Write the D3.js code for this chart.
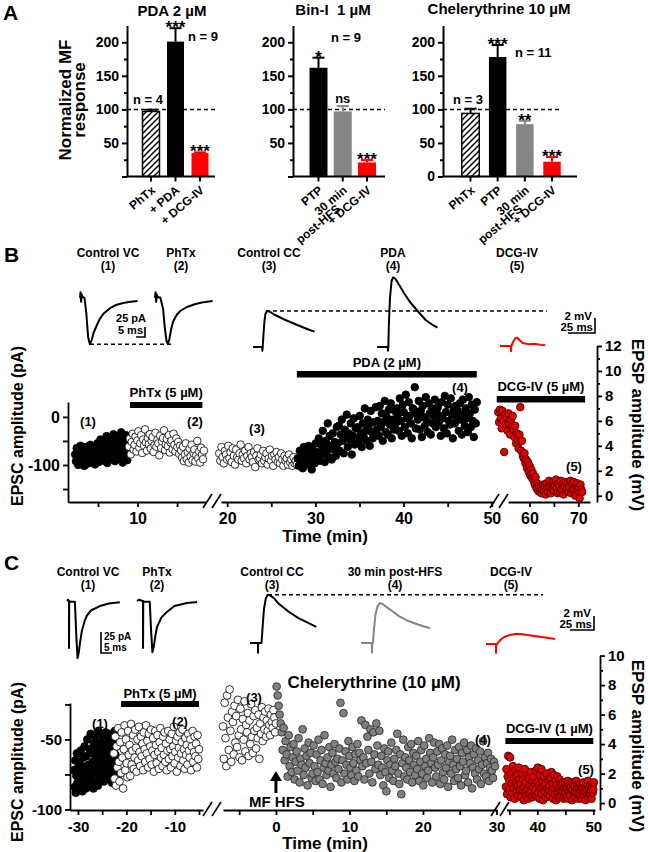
<!DOCTYPE html>
<html><head><meta charset="utf-8">
<script src="https://cdn.jsdelivr.net/npm/d3@7"></script>
<style>
html,body{margin:0;padding:0;background:#fff;}
svg{display:block;font-family:"Liberation Sans",Arial,Helvetica,sans-serif;font-weight:bold;}
</style></head><body>
<svg id="fig" width="648" height="852"></svg>
<script>
// ================= DATA =================
// ---- Panel A (normalized MF response, %) ----
const aTitles = ["PDA 2 µM", "Bin-I\u00a0 1 µM", "Chelerythrine 10 µM"];
const aCatsPDA = ["PhTx", "+ PDA", "+ DCG-IV"];
const aMeansPDA = [97, 201, 35];
const aErrPDA = [2.5, 20, 1];
const aSigPDA = ["", "***", "***"];
const aNPDA = ["n = 4", "n = 9"];
const aCatsBin = ["PTP", "30 min\npost-HFS", "+ DCG-IV"];
const aMeansBin = [162, 97, 21];
const aErrBin = [15, 8, 3.5];
const aSigBin = ["*", "ns", "***"];
const aNBin = ["n = 9"];
const aCatsChel = ["PhTx", "PTP", "30 min\npost-HFS", "+ DCG-IV"];
const aMeansChel = [94, 178, 78, 22];
const aErrChel = [7, 18, 5, 7];
const aSigChel = ["", "***", "**", "***"];
const aNChel = ["n = 3", "n = 11"];
const aYTicks = [0, 50, 100, 150, 200];
const aYMinor = [25, 75, 125, 175];

// ---- Panel B scatter ----
const bVcCtrl = [-78,-92,-65,-84,-100,-71,-88,-60,-95,-76,-83,-68,-102,-74,-90,-62,-81,-97,-70,-86,-58,-93,-77,-66,-89,-73,-99,-64,-85,-55,-80,-94,-69,-47,-87,-72,-60,-91,-52,-78,-84,-40,-96,-67,-57,-75,-88,-45,-63,-82,-36,-70,-92,-54,-79,-43,-66,-86,-50,-74,-32,-61,-95,-48,-83,-58,-38,-71,-90,-53];
const bVcPhTx = [-62,-45,-78,-52,-35,-68,-58,-41,-72,-49,-30,-64,-55,-38,-75,-47,-60,-26,-53,-70,-44,-57,-36,-66,-50,-42,-73,-59,-33,-62,-48,-55,-80,-39,-65,-51,-44,-28,-69,-57,-46,-61,-38,-74,-53,-49,-67,-35,-58,-72,-45,-63,-52,-77,-60,-70,-85,-62,-92,-78,-55,-88,-73,-95,-66,-82,-58,-90,-75,-68,-93,-80,-50,-86,-72,-95,-64,-79,-88,-70];
const bCcCtrl = [3.4,2.8,3.9,3.1,2.6,3.6,3.3,2.9,4.0,3.0,3.5,2.7,3.8,3.2,2.5,3.7,3.1,2.9,3.4,4.1,2.8,3.3,3.0,3.6,2.6,3.2,3.9,2.9,3.4,3.1,2.7,3.5,2.3,3.2,3.8,2.9,3.0,3.3,2.6,3.6,2.8,3.1,3.4,2.5,3.0,3.7,2.8,3.2,2.4,3.3,2.9,3.5,2.7,3.1,2.6,3.4,2.9,2.4,3.2,2.8,3.0,2.5,3.3,2.7,2.9,2.4,3.1,2.6,2.8,2.5];
const bCcPda = [3.0,2.4,3.6,2.8,3.3,2.2,3.9,2.7,3.1,3.5,2.5,4.0,2.9,3.4,2.1,3.7,3.2,2.6,4.2,3.0,
 3.5,4.6,2.8,4.1,3.3,5.2,3.9,2.7,4.4,3.6,5.8,3.1,4.8,4.0,2.9,5.0,3.7,4.3,3.2,5.5,
 4.2,5.6,3.6,4.9,6.1,4.4,3.4,5.3,4.7,6.5,3.9,5.0,4.5,5.8,3.3,4.8,6.2,4.1,5.4,4.6,
 5.5,4.3,6.4,5.0,3.9,5.8,4.7,7.0,5.2,4.4,6.1,5.6,4.0,6.8,5.1,4.6,5.9,4.9,7.1,5.3,
 6.0,4.8,7.2,5.5,6.6,4.4,5.9,7.6,5.1,6.3,4.9,6.9,5.7,7.4,4.6,6.1,5.3,6.8,5.8,7.0,
 6.5,5.2,7.8,6.0,4.8,7.3,6.7,5.5,8.1,6.2,5.0,7.5,6.4,5.8,4.6,7.0,6.9,8.7,5.4,6.6,
 6.1,7.6,5.3,6.8,4.7,7.2,6.3,5.6,7.9,6.0,5.1,7.4,6.6,4.9,7.0,5.8,6.4,7.7,5.5,6.9,
 7.1,5.9,6.4,4.8,7.5,6.2,5.4,8.0,6.7,5.0,7.3,6.0,5.7,7.8,6.5,4.6,6.9,5.8,7.2,6.3,
 6.8,5.2,7.4,6.1,4.9,7.7,6.5,5.6,7.0,6.2,5.1,7.9,6.6,5.5,7.3,6.0,4.7,6.9,5.8,7.5];
const bCcDcg = [6.7,5.9,6.9,6.2,5.4,6.8,6.0,3.5,6.5,5.7,6.3,5.2,6.6,5.8,4.9,6.1,5.5,6.4,
 5.3,4.7,5.6,4.2,5.0,4.5,3.8,4.9,7.1,3.6,4.4,3.2,
 3.0,3.4,2.6,2.9,2.2,2.7,1.9,2.4,1.6,2.1,1.4,1.8,
 1.2,0.9,1.5,0.6,1.0,0.4,0.8,0.3,0.7,0.2,0.5,0.9,
 0.4,0.8,0.1,1.0,0.6,0.3,1.2,0.7,0.2,0.9,0.5,1.1,0.4,0.8,1.3,0.6,0.2,1.0,0.7,0.3,1.2,0.5,0.9,0.1,0.8,1.1,0.4,0.6,1.0,0.3,0.7,1.2,0.2,0.9,0.5,1.1,0.6,0.0,0.8,1.0,0.4,0.7,-0.2,0.9,0.5,0.3];
// sweep windows (min) of each phase
const bVcCtrlT = [2.1, 8.8], bVcPhTxT = [8.9, 18.4], bCcCtrlT = [19.1, 27.9], bCcPdaT = [28.0, 48.3], bCcDcgT = [53.6, 70.8];
// drug applications (min)
const bPhTxApp = [9.05, 18.2], bPdaApp = [27.9, 48.3], bDcgApp = [53.3, 71.4];
const bDrugLabels = ["PhTx (5 µM)", "PDA (2 µM)", "DCG-IV (5 µM)"];

// ---- Panel C scatter ----
const cVcCtrl = [-72,-84,-65,-88,-76,-60,-81,-70,-86,-67,-79,-74,-58,-83,-69,-87,-63,-77,-80,-55,
 -73,-85,-62,-78,-50,-82,-68,-75,-57,-84,-46,-71,-79,-60,-66,-85,-53,-74,-48,-81,
 -64,-70,-56,-83,-44,-76,-61,-68,-52,-79,-58,-72,-47,-65,-80,-54,-69,-45,-75,-62,
 -59,-73,-50,-66,-78,-46,-63,-70,-55,-81,-49,-67,-58,-74,-44,-61,-71,-53,-64,-77];
const cVcPhTx = [-60,-78,-48,-83,-55,-70,-42,-66,-80,-52,-74,-45,-63,-85,-57,-40,-72,-50,-67,-77,
 -44,-61,-54,-76,-39,-68,-58,-47,-71,-63,-43,-56,-73,-50,-65,-41,-59,-69,-48,-62,
 -53,-72,-45,-57,-66,-40,-60,-51,-70,-46,-64,-55,-43,-68,-58,-49,-73,-61,-44,-54,
 -67,-47,-59,-71,-52,-42,-63,-56,-69,-48,-61,-45,-66,-53,-72,-58,-44,-64,-50,-57,
 -70,-46,-62,-55,-41,-67,-59,-51,-73,-48,-63,-56,-45,-69,-60,-52,-43,-65,-57,-71,
 -49,-61,-54,-68,-46,-58,-63,-50,-72,-55,-44,-66,-59,-48,-62,-53,-70,-47,-64,-57];
const cCcCtrl = [5.2,3.0,6.8,4.4,2.5,7.3,5.8,3.6,7.7,4.9,2.8,6.2,5.5,3.3,6.6,4.1,5.9,3.8,7.0,4.6,
 3.1,6.4,5.0,2.9,5.7,4.3,6.9,3.5,5.3,4.8,6.1,3.2,5.6,4.0,6.7,4.5,3.4,5.9,4.9,6.3,
 3.7,5.1,4.4,6.0,3.0,5.4,4.7,6.5,4.2,5.8,5.0,6.2,4.5,5.6,4.9,6.4,5.3,4.6,6.0,5.5,
 5.1,6.3,5.8,4.8,5.4];
const cCcChel = [7.9,7.3,6.6,6.0,5.4,4.8,3.6,5.1,2.9,4.2,3.3,1.8,4.6,2.5,3.8,2.1,3.1,4.0,1.6,2.8,
 3.5,2.2,4.4,1.4,3.0,2.6,5.0,1.9,3.7,2.4,3.2,1.2,4.1,2.7,3.4,1.7,2.0,3.9,2.5,1.5,
 3.3,2.1,4.3,1.6,2.9,3.6,1.3,2.4,4.6,2.7,1.9,3.1,2.2,3.8,1.1,2.6,3.4,2.0,4.0,2.8,
 1.7,3.0,2.3,3.7,6.8,1.4,2.9,6.1,2.0,3.5,2.6,1.6,4.2,3.2,2.4,1.9,3.8,2.7,1.5,3.3,
 2.2,4.0,1.8,3.4,2.9,5.6,2.5,3.1,1.6,5.3,2.7,4.5,3.6,2.0,5.0,2.8,1.4,4.8,3.3,2.3,
 5.4,3.9,2.6,4.9,1.9,3.2,2.4,1.2,3.7,2.1,0.8,2.9,3.5,1.7,2.6,4.1,2.2,1.5,3.0,2.5,
 3.6,4.7,2.0,1.3,3.3,0.6,2.7,4.3,1.8,3.1,2.4,1.6,3.8,2.9,2.1,4.0,1.4,3.4,2.6,1.9,
 3.2,2.3,4.2,1.5,2.8,3.6,2.0,1.2,3.9,2.5,3.0,1.7,2.2,4.4,3.4,2.7,1.4,3.1,4.1,2.4,
 1.8,3.5,2.6,4.0,1.3,2.9,3.7,2.1,1.6,3.3,2.4,3.9,1.1,2.8,3.2,2.0,4.3,2.6,1.5,3.6,
 2.3,3.0,1.7,3.8,2.5,1.2,3.4,2.8,4.1,1.9,2.2,3.6,1.4,3.1,2.7,3.9,1.0,2.4,3.3,2.0,
 3.7,1.6,2.9,2.3,3.5,1.3,2.6,4.2,2.0,3.1,1.8,2.7,3.4,1.5,2.4,3.0,2.2,1.7,2.8,2.5];
const cCcDcg = [1.1,2.3,0.6,1.8,3.2,0.9,1.5,3.1,0.4,2.0,1.3,0.7,2.5,1.0,1.7,0.3,2.2,1.4,0.8,1.9,1.2,0.5,2.4,1.6,0.9,
 1.3,0.4,2.0,0.9,1.6,0.2,1.1,2.3,0.7,1.4,0.5,1.9,1.0,0.3,1.7,1.2,0.6,2.1,0.8,1.5,0.4,1.1,1.8,0.6,1.3,
 0.9,2.2,0.5,1.4,2.4,0.7,1.2,0.3,1.9,1.0,2.3,0.6,1.5,0.2,1.1,1.8,0.8,1.3,0.4,2.0,1.0,0.6,1.6,0.9,1.2,
 0.5,1.7,2.1,0.8,1.3,0.3,1.9,1.0,0.6,1.5,0.2,1.2,1.8,0.7,1.0,0.4,1.6,0.9,1.3,0.5,1.1,0.8,1.4,0.3,1.0,
 0.7,1.4,0.4,1.1,0.9,1.5,0.3,0.8,1.2,0.5,1.0,1.4,0.2,0.9,1.3,0.6,1.1,0.4,0.8,1.5,0.7,1.2,0.3,1.0,0.6,
 1.3,0.5,0.9,1.2,0.3,1.0,1.4,0.6,0.8,1.1,0.2,1.3,0.7,0.9,1.5,0.4,1.0,0.6,1.2,0.8,0.3,1.1,0.7,0.9,1.4];
const cVcCtrlT = [-30.8, -21.8], cVcPhTxT = [-22.6, -5.0], cCcCtrlT = [-7.2, 0.0], cCcChelT = [0.1, 29.8], cCcDcgT = [34.4, 50.1];
const cPhTxApp = [-21.1, -5.0], cDcgApp = [34.3, 50.0];
const cDrugLabels = ["PhTx (5 µM)", "Chelerythrine (10 µM)", "DCG-IV (1 µM)"];
const cHfsTime = 0;

// ---- Example traces: [ms, pA] or [ms, mV] ----
const bTrVc1 = [[0,-2],[0.3,12],[0.6,-12],[1,6],[1.5,0],[2.5,-2],[3.5,-40],[4.5,-100],[5.5,-118],[6.5,-108],[7.5,-90],[9.4,-70],[11,-55],[13,-42],[16.7,-28],[20,-20],[24,-15],[28,-12],[32,-10]];
const bTrVc2 = [[0,-2],[0.3,12],[0.6,-12],[1,6],[1.5,0],[3,-2],[4.5,-30],[5.5,-80],[6.5,-112],[7.2,-117],[8,-105],[9,-80],[10,-62],[12,-45],[14,-35],[17.8,-25],[22,-18],[26,-14],[32,-10]];
const bTrCc3 = [[0,0],[8.5,0],[8.7,-0.5],[9,0],[9.5,1.2],[10.5,3.3],[11.5,4.4],[13,4.8],[15,4.75],[20,4.3],[30,3.6],[40,3.0],[50,2.4],[57,2.05]];
const bTrCc4 = [[0,0],[10,0],[10.2,-0.5],[10.5,0],[11,3],[12,6.5],[13.5,8.8],[15,9.3],[17,9.1],[20,8.4],[25,7.2],[30,6.1],[37,4.9],[45,3.6],[52,2.9],[56,2.6]];
const bTrCc5 = [[0,0],[10,0],[10.2,-0.7],[10.5,0],[12,0.5],[14,1.0],[16,1.1],[18,0.8],[21,0.4],[26,0.25],[32,0.3],[38,0.15],[42,0.1]];
const cTrVc1 = [[0,0],[0.5,1.5],[0.8,0],[0.9,0],[0.92,-56],[1.0,0],[1.6,-1],[3.6,-1],[4.2,-40],[4.8,-68],[5.3,-62],[6,-48],[6.8,-35],[8,-24],[9.1,-17],[11,-11],[15,-6],[19,-3],[24,-1.5]];
const cTrVc2 = [[0,0],[1,1.5],[2.5,0],[2.7,0],[2.75,-56],[2.85,0],[3.5,-1],[5.8,-1],[6.4,-35],[7.0,-61],[7.6,-55],[8.3,-42],[9.1,-31],[11,-20],[13.6,-13],[17,-6],[22.7,-2.4],[27.3,-1.2]];
const cTrCc3 = [[0,0],[8.3,0],[8.35,-1.4],[8.5,0],[12,0],[13,2],[14.5,4.8],[16.5,6.4],[18.5,6.9],[21,6.8],[25,6.4],[30,5.6],[40,4.5],[50,3.6],[60,2.9],[69,2.3]];
const cTrCc4 = [[0,0],[11.5,0],[11.55,-1.4],[11.7,0],[12.5,0],[13.5,2],[15,4],[17,5.2],[19.5,5.7],[22,5.6],[26,5.2],[32,4.6],[40,3.8],[50,3.1],[60,2.6],[72,2.1]];
const cTrCc5 = [[0,0],[10.4,0],[10.45,-1.3],[10.6,0],[11.5,0],[15,0.6],[19,1.0],[25,1.3],[32,1.45],[40,1.35],[50,1.15],[60,0.95],[72,0.7]];

// ================= DRAWING =================
const svg = d3.select("#fig");
const RED = "#ff0000", GRAY = "#858585";
const defs = svg.append("defs");
const pat = defs.append("pattern").attr("id","hatch").attr("patternUnits","userSpaceOnUse").attr("width",6).attr("height",6);
pat.append("rect").attr("width",6).attr("height",6).attr("fill","#fff");
pat.append("path").attr("d","M-1,1 L1,-1 M0,6 L6,0 M5,7 L7,5").attr("stroke","#000").attr("stroke-width",1.5);

function T(g, s, x, y, o = {}) {
  return g.append("text").attr("x", x).attr("y", y)
    .attr("text-anchor", o.anchor || "middle").attr("font-size", o.size || 13)
    .attr("font-weight", "bold").attr("fill", o.fill || "#000").text(s);
}
function styleAxis(sel, fs, sw) {
  sel.attr("font-family", null).attr("font-size", fs).attr("font-weight", "bold");
  sel.selectAll("path.domain").attr("stroke-width", sw || 2);
  sel.selectAll(".tick line").attr("stroke-width", sw || 2);
  sel.selectAll(".tick text").attr("fill", "#000");
}
const fmt = d => (d < 0 ? "-" + Math.abs(d) : String(d));

// ---------- Panel A ----------
T(svg, "A", 3, 20, {anchor: "start", size: 21});
const aY = d3.scaleLinear().domain([0, 225]).range([176.5, 25.5]);
const barStyle = {"PhTx": "hatch", "+ PDA": "black", "PTP": "black", "30 min\npost-HFS": "gray", "+ DCG-IV": "red"};
const aLayout = [
  {axisX: 127, axisEnd: 215, dashEnd: 215, band: [142.5, 208.5], pad: 0.306, titleX: 172, titleY: 16, zero: false,
   nPos: [[133, 104], [188, 41]]},
  {axisX: 293, axisEnd: 385, dashEnd: 385, band: [309.5, 376], pad: 0.258, titleX: 333, titleY: 15, zero: false,
   nPos: [[331, 42]]},
  {axisX: 443, axisEnd: 577, dashEnd: 562, band: [461.75, 560.75], pad: 0.356, titleX: 499, titleY: 14, zero: true,
   nPos: [[453, 104], [515, 57]]}
];
const aSets = [
  [aCatsPDA, aMeansPDA, aErrPDA, aSigPDA, aNPDA],
  [aCatsBin, aMeansBin, aErrBin, aSigBin, aNBin],
  [aCatsChel, aMeansChel, aErrChel, aSigChel, aNChel]
];
aSets.forEach(([cats, means, errs, sigs, ns], k) => {
  const L = aLayout[k];
  const g = svg.append("g");
  const x = d3.scaleBand().domain(cats).range(L.band).paddingInner(L.pad).paddingOuter(0);
  T(g, aTitles[k], L.titleX, L.titleY, {size: 15});
  g.append("line").attr("x1", L.axisX).attr("x2", L.dashEnd).attr("y1", aY(100)).attr("y2", aY(100))
    .attr("stroke", "#000").attr("stroke-width", 1.5).attr("stroke-dasharray", "4,3");
  cats.forEach((c, i) => {
    const st = barStyle[c];
    const col = st === "gray" ? GRAY : st === "red" ? RED : "#000";
    const cx = x(c) + x.bandwidth() / 2;
    g.append("line").attr("x1", cx).attr("x2", cx).attr("y1", aY(means[i])).attr("y2", aY(means[i] + errs[i]))
      .attr("stroke", col).attr("stroke-width", 2);
    g.append("line").attr("x1", cx - 6).attr("x2", cx + 6).attr("y1", aY(means[i] + errs[i])).attr("y2", aY(means[i] + errs[i]))
      .attr("stroke", col).attr("stroke-width", 2);
    g.append("rect").attr("x", x(c)).attr("width", x.bandwidth())
      .attr("y", aY(means[i])).attr("height", aY(0) - aY(means[i]))
      .attr("fill", st === "hatch" ? "url(#hatch)" : col)
      .attr("stroke", st === "hatch" ? "#000" : "none").attr("stroke-width", 1.5);
    if (sigs[i]) {
      const isStar = sigs[i].includes("*");
      T(g, sigs[i], cx, aY(means[i] + errs[i]) + (isStar ? 5 : -3), {size: isStar ? 17 : 13});
    }
    g.append("line").attr("x1", cx).attr("x2", cx).attr("y1", aY(0)).attr("y2", aY(0) + 5).attr("stroke", "#000").attr("stroke-width", 2);
    const lines = c.split("\n");
    const t = g.append("text").attr("text-anchor", "end").attr("font-size", 12).attr("font-weight", "bold")
      .attr("transform", `translate(${cx + 5},${aY(0) + 15}) rotate(-40)`);
    lines.forEach((ln, j) => t.append("tspan").attr("x", j === 0 ? 0 : -17).attr("dy", j === 0 ? 0 : 10).text(ln));
  });
  ns.forEach((s, j) => T(g, s, L.nPos[j][0], L.nPos[j][1], {anchor: "start", size: 13}));
  const ax = g.append("g").attr("transform", `translate(${L.axisX},0)`)
    .call(d3.axisLeft(aY).tickValues(aYTicks).tickSize(5).tickSizeOuter(0).tickPadding(3)
      .tickFormat(d => (d === 0 && !L.zero) ? "" : d));
  styleAxis(ax, 14);
  const axm = g.append("g").attr("transform", `translate(${L.axisX},0)`)
    .call(d3.axisLeft(aY).tickValues(aYMinor).tickSize(3).tickFormat(""));
  axm.select("path.domain").remove(); styleAxis(axm, 14);
  g.append("line").attr("x1", L.axisX).attr("x2", L.axisEnd).attr("y1", aY(0)).attr("y2", aY(0)).attr("stroke", "#000").attr("stroke-width", 2);
});
T(svg, "Normalized MF", 0, 0, {size: 17}).attr("transform", "translate(71,100) rotate(-90)");
T(svg, "response", 0, 0, {size: 17}).attr("transform", "translate(85,100) rotate(-90)");

// ---------- trace helper ----------
function drawTrace(g, data, ox, oy, pxPerMs, pxPerUnit, col) {
  const xs = d3.scaleLinear().domain([0, 1]).range([ox, ox + pxPerMs]);
  const ys = d3.scaleLinear().domain([0, 1]).range([oy, oy - pxPerUnit]);
  g.append("path").datum(data).attr("fill", "none").attr("stroke", col).attr("stroke-width", 2)
    .attr("stroke-linejoin", "round")
    .attr("d", d3.line().x(d => xs(d[0])).y(d => ys(d[1])));
  return {xs, ys};
}
function scaleBar(g, cx, cy, wPx, hPx, leftward) {
  const p = leftward ? `M${cx - wPx},${cy} L${cx},${cy} L${cx},${cy - hPx}` : `M${cx + wPx},${cy} L${cx},${cy} L${cx},${cy - hPx}`;
  g.append("path").attr("d", p).attr("fill", "none").attr("stroke", "#000").attr("stroke-width", 1.6);
}
function dashed(g, x1, x2, y) {
  g.append("line").attr("x1", x1).attr("x2", x2).attr("y1", y).attr("y2", y)
    .attr("stroke", "#000").attr("stroke-width", 1.4).attr("stroke-dasharray", "4,3");
}

// ---------- scatter helper ----------
const ptStyle = {
  black: {fill: "#000", stroke: "#000"},
  open: {fill: "#fff", stroke: "#000"},
  gray: {fill: "#808080", stroke: "#262626"},
  red: {fill: "#e00000", stroke: "#3a0000"}
};
function drawScatter(L, series, r) {
  const g = svg.append("g");
  const xs = L.segDomains.map((d, i) => d3.scaleLinear().domain(d).range(L.segRanges[i]));
  const yL = d3.scaleLinear().domain(L.leftDomain).range(L.leftRange);
  const yR = d3.scaleLinear().domain(L.rightDomain).range(L.rightRange);
  xs.forEach((x, i) => {
    const a = g.append("g").attr("transform", `translate(0,${L.axisY})`)
      .call(d3.axisBottom(x).tickValues(L.major[i]).tickSize(5).tickSizeOuter(0).tickPadding(L.xPad).tickFormat(fmt));
    styleAxis(a, L.xFont, 1.8);
    const m = g.append("g").attr("transform", `translate(0,${L.axisY})`)
      .call(d3.axisBottom(x).tickValues(L.minor[i]).tickSize(5).tickFormat(""));
    m.select("path.domain").remove(); styleAxis(m, L.xFont, 1.8);
  });
  L.breaks.forEach(bx => {
    [[-10, -1], [-1, 8]].forEach(([a, b]) => {
      g.append("line").attr("x1", bx + a).attr("y1", L.axisY + 6).attr("x2", bx + b).attr("y2", L.axisY - 8)
        .attr("stroke", "#000").attr("stroke-width", 1.6);
    });
  });
  const la = g.append("g").attr("transform", `translate(${L.leftX},0)`)
    .call(d3.axisLeft(yL).tickValues(L.leftTicks).tickSize(5).tickSizeOuter(0).tickPadding(3)
      .tickFormat(d => L.leftLabeled.includes(d) ? fmt(d) : ""));
  styleAxis(la, L.yFont, 1.8);
  const ra = g.append("g").attr("transform", `translate(${L.rightX},0)`)
    .call(d3.axisRight(yR).tickValues(L.rightTicks).tickSize(5).tickSizeOuter(0).tickPadding(3).tickFormat(fmt));
  styleAxis(ra, L.rFont, 1.8);
  const rm = g.append("g").attr("transform", `translate(${L.rightX},0)`)
    .call(d3.axisRight(yR).tickValues(L.rightMinor).tickSize(3).tickFormat(""));
  rm.select("path.domain").remove(); styleAxis(rm, L.rFont, 1.8);
  series.forEach(s => {
    const x = xs[s.seg], y = s.axis === "left" ? yL : yR;
    const n = s.vals.length;
    const pts = s.vals.map((v, i) => ({t: s.t[0] + (s.t[1] - s.t[0]) * i / (n - 1), v}));
    const st = ptStyle[s.style];
    g.append("g").selectAll("circle").data(pts).join("circle")
      .attr("cx", d => x(d.t)).attr("cy", d => y(d.v)).attr("r", r)
      .attr("fill", st.fill).attr("stroke", st.stroke).attr("stroke-width", 0.8);
  });
  return {g, xs, yL, yR};
}
function drugBar(g, x, app, y, h, label, labelY, fs) {
  g.append("rect").attr("x", x(app[0])).attr("width", x(app[1]) - x(app[0])).attr("y", y).attr("height", h).attr("fill", "#000");
  T(g, label, (x(app[0]) + x(app[1])) / 2, labelY, {size: fs || 13});
}

// ---------- Panel B ----------
T(svg, "B", 4, 262, {anchor: "start", size: 21});
const gB = svg.append("g");
[["Control VC", 108], ["PhTx", 181], ["Control CC", 269], ["PDA", 393], ["DCG-IV", 517]].forEach(([s, x], i) => {
  T(gB, s, x, 257, {size: 12});
  T(gB, `(${i + 1})`, x, 270, {size: 12});
});
const bv1 = drawTrace(gB, bTrVc1, 80, 297, 1.8, 0.4, "#000");
drawTrace(gB, bTrVc2, 155, 297, 1.8, 0.4, "#000");
dashed(gB, 90, 172, bv1.ys(d3.min(bTrVc1, d => d[1])));
scaleBar(gB, 145, 337, bv1.xs(5) - bv1.xs(0), bv1.ys(0) - bv1.ys(25), true);
T(gB, "25 pA", 146, 322, {anchor: "end", size: 11});
T(gB, "5 ms", 143, 334, {anchor: "end", size: 11});
const bc3 = drawTrace(gB, bTrCc3, 253, 347, 1.08, 7.5, "#000");
drawTrace(gB, bTrCc4, 377, 347, 1.08, 7.5, "#000");
drawTrace(gB, bTrCc5, 500, 346, 1.08, 7.5, RED);
dashed(gB, 266, 547, bc3.ys(d3.max(bTrCc3, d => d[1])));
scaleBar(gB, 595, 333, bc3.xs(25) - bc3.xs(0), bc3.ys(0) - bc3.ys(2), true);
T(gB, "2 mV", 592, 320, {anchor: "end", size: 11.5});
T(gB, "25 ms", 593, 331, {anchor: "end", size: 11.5});

const bL = {
  segRanges: [[68, 205.5], [221, 494], [508, 590]],
  segDomains: [[1.2, 18.6], [19.3, 50.25], [55.6, 72.4]],
  major: [[10], [20, 30, 40, 50], [60, 70]],
  minor: [[5, 15], [25, 35, 45], [65]],
  axisY: 502, breaks: [213, 500],
  leftX: 68, leftDomain: [-177, 31], leftRange: [502, 402], leftTicks: [-150, -100, -50, 0], leftLabeled: [0, -100],
  rightX: 597, rightDomain: [-0.5, 12], rightRange: [502, 346], rightTicks: [0, 2, 4, 6, 8, 10, 12], rightMinor: [1, 3, 5, 7, 9, 11],
  xFont: 16, yFont: 16, rFont: 15, xPad: 6
};
const B = drawScatter(bL, [
  {seg: 0, axis: "left", t: bVcCtrlT, vals: bVcCtrl, style: "black"},
  {seg: 0, axis: "left", t: bVcPhTxT, vals: bVcPhTx, style: "open"},
  {seg: 1, axis: "right", t: bCcCtrlT, vals: bCcCtrl, style: "open"},
  {seg: 1, axis: "right", t: bCcPdaT, vals: bCcPda, style: "black"},
  {seg: 2, axis: "right", t: bCcDcgT, vals: bCcDcg, style: "red"}
], 3.8);
drugBar(B.g, B.xs[0], bPhTxApp, 402, 6, bDrugLabels[0], 397);
drugBar(B.g, B.xs[1], bPdaApp, 371, 6.5, bDrugLabels[1], 367);
drugBar(B.g, B.xs[2], bDcgApp, 396, 6.5, bDrugLabels[2], 391);
[["(1)", 88, 426], ["(2)", 195, 426], ["(3)", 257, 433], ["(4)", 460, 392], ["(5)", 574, 471]].forEach(([s, x, y]) => T(B.g, s, x, y, {size: 13}));
T(B.g, "EPSC amplitude (pA)", 0, 0, {size: 16}).attr("transform", "translate(23,426) rotate(-90)");
T(B.g, "EPSP amplitude (mV)", 0, 0, {size: 17}).attr("transform", "translate(632,425) rotate(90)");
T(B.g, "Time (min)", 325, 542, {size: 17});

// ---------- Panel C ----------
T(svg, "C", 4, 570, {anchor: "start", size: 21});
const gC = svg.append("g");
[["Control VC", 88], ["PhTx", 157], ["Control CC", 272], ["30 min post-HFS", 395], ["DCG-IV", 511]].forEach(([s, x], i) => {
  T(gC, s, x, 576, {size: 12});
  T(gC, `(${i + 1})`, x, 589, {size: 12});
});
const cv1 = drawTrace(gC, cTrVc1, 67, 601, 2.2, 0.84, "#000");
drawTrace(gC, cTrVc2, 137, 601, 2.2, 0.84, "#000");
scaleBar(gC, 101, 653, cv1.xs(5) - cv1.xs(0), cv1.ys(0) - cv1.ys(25), false);
T(gC, "25 pA", 104, 640, {anchor: "start", size: 10});
T(gC, "5 ms", 104, 651, {anchor: "start", size: 10});
const cc3 = drawTrace(gC, cTrCc3, 250, 643, 0.96, 7, "#000");
drawTrace(gC, cTrCc4, 361, 643, 0.96, 7, GRAY);
drawTrace(gC, cTrCc5, 486, 644, 0.96, 7, RED);
dashed(gC, 268, 543, cc3.ys(d3.max(cTrCc3, d => d[1])));
scaleBar(gC, 594, 630, cc3.xs(25) - cc3.xs(0), cc3.ys(0) - cc3.ys(2), true);
T(gC, "2 mV", 591, 617, {anchor: "end", size: 11.5});
T(gC, "25 ms", 592, 628, {anchor: "end", size: 11.5});

const cL = {
  segRanges: [[70, 203], [223, 497], [506.5, 595]],
  segDomains: [[-31.65, -4.17], [-7.2, 30.07], [34.5, 50.3]],
  major: [[-30, -20, -10], [0, 10, 20, 30], [40, 50]],
  minor: [[-25, -15, -5], [-5, 5, 15, 25], [35, 45]],
  axisY: 810, breaks: [213, 501],
  leftX: 70, leftDomain: [-100.4, -24], leftRange: [810, 703], leftTicks: [-100, -75, -50, -25], leftLabeled: [-100, -50],
  rightX: 600, rightDomain: [-0.47, 10], rightRange: [810, 655.6], rightTicks: [0, 2, 4, 6, 8, 10], rightMinor: [1, 3, 5, 7, 9],
  xFont: 15, yFont: 15, rFont: 15, xPad: 6
};
const C = drawScatter(cL, [
  {seg: 0, axis: "left", t: cVcCtrlT, vals: cVcCtrl, style: "black"},
  {seg: 0, axis: "left", t: cVcPhTxT, vals: cVcPhTx, style: "open"},
  {seg: 1, axis: "right", t: cCcCtrlT, vals: cCcCtrl, style: "open"},
  {seg: 1, axis: "right", t: cCcChelT, vals: cCcChel, style: "gray"},
  {seg: 2, axis: "right", t: cCcDcgT, vals: cCcDcg, style: "red"}
], 3.9);
drugBar(C.g, C.xs[0], cPhTxApp, 701, 6, cDrugLabels[0], 698);
drugBar(C.g, C.xs[2], cDcgApp, 738, 6, cDrugLabels[2], 733);
T(C.g, cDrugLabels[1], 374, 688, {size: 17});
[["(1)", 100, 728], ["(2)", 180, 726], ["(3)", 254, 702], ["(4)", 483, 744], ["(5)", 586, 774]].forEach(([s, x, y]) => T(C.g, s, x, y, {size: 13}));
const hx = C.xs[1](cHfsTime);
C.g.append("line").attr("x1", hx).attr("x2", hx).attr("y1", 793).attr("y2", 779).attr("stroke", "#000").attr("stroke-width", 3);
C.g.append("path").attr("d", `M${hx - 6},${781} L${hx + 6},${781} L${hx},${771} Z`).attr("fill", "#000");
T(C.g, "MF HFS", hx + 1, 807, {size: 15});
T(C.g, "EPSC amplitude (pA)", 0, 0, {size: 16}).attr("transform", "translate(23,762) rotate(-90)");
T(C.g, "EPSP amplitude (mV)", 0, 0, {size: 17}).attr("transform", "translate(632,746) rotate(90)");
T(C.g, "Time (min)", 325, 849, {size: 17});
</script>
</body></html>
